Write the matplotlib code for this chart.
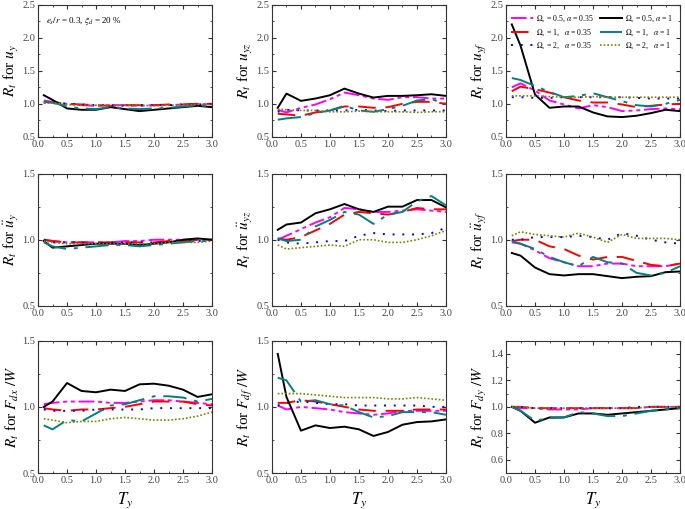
import matplotlib
matplotlib.use('Agg')
import matplotlib.pyplot as plt
from matplotlib.ticker import MultipleLocator

plt.rcParams['font.family'] = ['Liberation Serif', 'DejaVu Serif']
plt.rcParams['mathtext.fontset'] = 'stix'

T = [0.1, 0.25, 0.5, 0.75, 1.0, 1.25, 1.5, 1.75, 2.0, 2.25, 2.5, 2.75, 3.0]

series_labels = [r'$\Omega_s$ = 0.5, $\alpha$ = 0.35',
                 r'$\Omega_s$ = 1,   $\alpha$ = 0.35',
                 r'$\Omega_s$ = 2,   $\alpha$ = 0.35',
                 r'$\Omega_s$ = 0.5, $\alpha$ = 1',
                 r'$\Omega_s$ = 1,   $\alpha$ = 1',
                 r'$\Omega_s$ = 2,   $\alpha$ = 1']

# order: mag, red, blue, black, teal, olive
u_y = [
    [1.05, 1.03, 1.00, 0.98, 0.97, 0.98, 0.98, 0.97, 0.98, 0.98, 0.99, 1.00, 0.99],
    [1.03, 1.02, 1.00, 0.99, 0.98, 0.97, 0.98, 0.98, 0.98, 0.99, 0.99, 1.00, 1.00],
    [1.02, 1.01, 1.00, 0.99, 0.98, 0.98, 0.97, 0.98, 0.98, 0.98, 0.99, 0.99, 1.00],
    [1.13, 1.06, 0.93, 0.91, 0.91, 0.95, 0.92, 0.89, 0.91, 0.93, 0.95, 0.97, 0.95],
    [1.03, 1.02, 0.96, 0.93, 0.92, 0.95, 0.93, 0.92, 0.93, 0.94, 0.96, 0.98, 0.96],
    [1.01, 1.01, 0.99, 0.98, 0.98, 0.97, 0.98, 0.98, 0.97, 0.98, 0.98, 0.99, 0.99],
]
u_yz = [
    [0.91, 0.87, 0.94, 0.99, 1.07, 1.17, 1.13, 1.08, 1.06, 1.10, 1.10, 1.08, 1.08],
    [0.85, 0.84, 0.82, 0.87, 0.90, 0.96, 0.96, 0.94, 0.95, 1.00, 1.03, 1.03, 1.00],
    [0.88, 0.91, 0.90, 0.90, 0.90, 0.90, 0.91, 0.90, 0.89, 0.90, 0.90, 0.90, 0.90],
    [0.94, 1.155, 1.045, 1.08, 1.13, 1.23, 1.155, 1.095, 1.12, 1.12, 1.13, 1.145, 1.12],
    [0.76, 0.78, 0.80, 0.86, 0.90, 0.97, 0.90, 0.88, 0.92, 0.97, 1.05, 1.07, 1.00],
    [0.92, 0.91, 0.90, 0.90, 0.88, 0.88, 0.89, 0.88, 0.88, 0.88, 0.87, 0.88, 0.88],
]
u_yf = [
    [1.25, 1.31, 1.20, 1.05, 0.99, 0.93, 0.98, 0.95, 0.89, 0.90, 0.92, 0.93, 0.92],
    [1.19, 1.26, 1.22, 1.17, 1.10, 1.05, 1.02, 1.02, 0.99, 0.95, 0.97, 0.99, 1.00],
    [1.10, 1.10, 1.09, 1.09, 1.10, 1.10, 1.10, 1.10, 1.10, 1.09, 1.08, 1.08, 1.08],
    [2.20, 1.88, 1.14, 0.94, 0.96, 0.96, 0.87, 0.81, 0.80, 0.82, 0.86, 0.91, 0.89],
    [1.39, 1.36, 1.27, 1.18, 1.10, 1.12, 1.16, 1.10, 1.04, 0.98, 0.96, 1.00, 1.06],
    [1.12, 1.12, 1.12, 1.11, 1.10, 1.10, 1.11, 1.10, 1.10, 1.10, 1.10, 1.10, 1.10],
]
a_y = [
    [1.00, 0.99, 0.98, 0.98, 0.98, 0.98, 0.99, 0.99, 1.00, 1.00, 1.00, 1.00, 1.00],
    [1.00, 0.99, 0.98, 0.98, 0.98, 0.98, 0.98, 0.98, 0.98, 0.99, 0.99, 1.00, 1.00],
    [1.00, 0.98, 0.98, 0.98, 0.97, 0.98, 0.98, 0.98, 0.98, 0.98, 0.99, 0.99, 1.00],
    [0.99, 0.94, 0.95, 0.96, 0.97, 0.97, 0.97, 0.96, 0.97, 0.98, 1.00, 1.01, 1.00],
    [0.98, 0.95, 0.93, 0.94, 0.95, 0.96, 0.96, 0.95, 0.96, 0.97, 0.98, 0.99, 0.99],
    [0.99, 0.98, 0.97, 0.97, 0.97, 0.97, 0.97, 0.97, 0.97, 0.98, 0.98, 0.98, 0.99],
]
a_yz = [
    [1.00, 1.03, 1.08, 1.13, 1.17, 1.24, 1.23, 1.21, 1.21, 1.22, 1.23, 1.22, 1.21],
    [1.01, 1.00, 1.02, 1.07, 1.12, 1.19, 1.21, 1.20, 1.19, 1.21, 1.24, 1.23, 1.23],
    [1.00, 0.98, 0.97, 0.98, 0.99, 0.99, 1.03, 1.05, 1.04, 1.04, 1.04, 1.05, 1.09],
    [1.075, 1.115, 1.13, 1.20, 1.23, 1.27, 1.23, 1.21, 1.25, 1.25, 1.30, 1.30, 1.245],
    [1.01, 0.99, 1.00, 1.10, 1.15, 1.21, 1.19, 1.12, 1.19, 1.21, 1.29, 1.33, 1.26],
    [0.96, 0.93, 0.94, 0.95, 0.96, 0.95, 1.00, 1.00, 0.98, 0.98, 1.00, 1.03, 1.07],
]
a_yf = [
    [0.98, 0.97, 0.92, 0.86, 0.83, 0.80, 0.80, 0.82, 0.82, 0.80, 0.80, 0.80, 0.82],
    [0.99, 1.00, 1.00, 0.95, 0.93, 0.88, 0.85, 0.87, 0.87, 0.84, 0.81, 0.80, 0.82],
    [1.00, 1.00, 1.02, 1.02, 1.02, 1.03, 1.02, 1.00, 1.05, 1.03, 1.00, 0.98, 0.97],
    [0.90, 0.88, 0.79, 0.74, 0.73, 0.74, 0.74, 0.725, 0.71, 0.72, 0.725, 0.755, 0.76],
    [0.99, 0.97, 0.93, 0.87, 0.83, 0.80, 0.87, 0.83, 0.82, 0.75, 0.73, 0.75, 0.80],
    [1.03, 1.06, 1.04, 1.03, 1.02, 1.05, 1.02, 0.98, 1.04, 1.01, 1.01, 1.01, 1.00],
]
F_dx = [
    [1.02, 1.03, 1.04, 1.04, 1.04, 1.03, 1.03, 1.04, 1.05, 1.05, 1.04, 1.03, 1.02],
    [0.99, 0.98, 0.97, 0.98, 0.98, 0.99, 1.00, 1.02, 1.04, 1.04, 1.04, 1.02, 1.01],
    [0.98, 0.97, 0.97, 0.97, 0.98, 0.98, 0.98, 0.98, 0.99, 0.99, 0.99, 0.99, 0.99],
    [1.00, 1.04, 1.18, 1.12, 1.11, 1.13, 1.12, 1.17, 1.175, 1.16, 1.13, 1.075, 1.095],
    [0.86, 0.83, 0.90, 0.89, 0.95, 1.01, 1.02, 1.05, 1.08, 1.08, 1.07, 1.04, 1.06],
    [0.91, 0.90, 0.88, 0.89, 0.89, 0.91, 0.92, 0.91, 0.90, 0.90, 0.91, 0.93, 0.96],
]
F_df = [
    [1.01, 0.98, 1.00, 0.99, 0.98, 0.96, 0.95, 0.94, 0.95, 0.97, 0.97, 0.97, 0.97],
    [1.03, 1.03, 1.05, 1.04, 1.02, 1.00, 0.98, 0.97, 0.97, 0.97, 0.98, 0.98, 0.98],
    [1.01, 1.03, 1.04, 1.03, 1.02, 1.02, 1.01, 1.01, 1.01, 1.01, 1.01, 1.00, 1.00],
    [1.40, 1.075, 0.82, 0.86, 0.84, 0.85, 0.83, 0.78, 0.81, 0.865, 0.885, 0.89, 0.905],
    [1.22, 1.20, 1.04, 1.05, 1.02, 1.01, 0.96, 0.92, 0.93, 0.96, 0.96, 0.96, 0.94],
    [1.10, 1.10, 1.10, 1.09, 1.08, 1.07, 1.07, 1.07, 1.06, 1.06, 1.07, 1.06, 1.05],
]
F_dy = [
    [1.00, 0.99, 0.99, 0.98, 0.98, 0.98, 0.99, 0.99, 0.99, 0.99, 1.00, 1.00, 1.00],
    [1.00, 1.00, 0.99, 0.99, 0.99, 0.99, 0.99, 0.99, 0.99, 0.99, 1.00, 1.00, 1.00],
    [1.00, 1.00, 0.99, 0.99, 0.99, 0.99, 0.99, 0.99, 0.99, 1.00, 1.00, 1.00, 1.00],
    [1.00, 0.97, 0.88, 0.92, 0.92, 0.95, 0.95, 0.94, 0.95, 0.96, 0.97, 0.98, 0.99],
    [1.00, 0.97, 0.895, 0.915, 0.92, 0.96, 0.95, 0.93, 0.93, 0.95, 0.97, 0.98, 0.99],
    [1.00, 1.00, 0.99, 0.99, 0.99, 0.99, 0.99, 0.99, 0.99, 0.99, 1.00, 1.00, 1.00],
]

panels = [
    (u_y, r'$R_t$ for $u_y$', (0.5, 2.5)),
    (u_yz, r'$R_t$ for $u_{yz}$', (0.5, 2.5)),
    (u_yf, r'$R_t$ for $u_{yf}$', (0.5, 2.5)),
    (a_y, r'$R_t$ for $\ddot{u}_y$', (0.5, 1.5)),
    (a_yz, r'$R_t$ for $\ddot{u}_{yz}$', (0.5, 1.5)),
    (a_yf, r'$R_t$ for $\ddot{u}_{yf}$', (0.5, 1.5)),
    (F_dx, r'$R_t$ for $F_{dx}$ $/W$', (0.5, 1.5)),
    (F_df, r'$R_t$ for $F_{df}$ $/W$', (0.5, 1.5)),
    (F_dy, r'$R_t$ for $F_{dy}$ $/W$', (0.5, 1.5)),
]

colors = ['#ff00ff', '#ff0000', '#0000ff', '#000000', '#008080', '#808000']
styles = [(0, (8, 2, 2, 2, 2, 2)), (0, (9, 5)), (0, (1, 4)), '-',
          (0, (12, 4, 2, 4)), (0, (1, 1.2))]
widths = [1.4, 1.4, 1.4, 1.4, 1.4, 1.2]

fig = plt.figure(figsize=(6.85, 5.09), dpi=100)

lefts = [0.0555, 0.397, 0.7387]
w = 0.254
bottoms = [0.731, 0.399, 0.0707]
h = 0.26

for i, (data, ylab, ylim) in enumerate(panels):
    r, c = divmod(i, 3)
    ax = fig.add_axes([lefts[c], bottoms[r], w, h])
    for k in range(6):
        ax.plot(T, data[k], color=colors[k], linestyle=styles[k],
                linewidth=widths[k], label=series_labels[k])
    ax.set_xlim(0, 3)
    ax.set_ylim(*ylim)
    ax.xaxis.set_major_locator(MultipleLocator(0.5))
    ax.xaxis.set_minor_locator(MultipleLocator(0.25))
    if i == 8:
        ax.set_yticks([0.6, 0.8, 1.0, 1.2, 1.4])
        ax.yaxis.set_minor_locator(MultipleLocator(0.1))
    else:
        ax.yaxis.set_major_locator(MultipleLocator(0.5))
        ax.yaxis.set_minor_locator(MultipleLocator(0.25))
    ax.tick_params(which='both', direction='in', top=True, right=True,
                   labelsize=7.5, colors='#333333', labelcolor='#444444', pad=2)
    ax.tick_params(which='major', length=3)
    ax.tick_params(which='minor', length=1.5)
    for sp in ax.spines.values():
        sp.set_color('#333333')
    ax.set_ylabel(ylab, fontsize=11, labelpad=1)
    if r == 2:
        ax.set_xlabel(r'$T_y$', fontsize=12, labelpad=4)
    if i == 0:
        ax.text(0.13, 2.22, r'$e_s/r$ = 0.3, $\xi_d$ = 20 %', fontsize=6.5)
    if i == 2:
        ax.legend(ncol=2, loc='upper left', bbox_to_anchor=(0.0, 0.97),
                  frameon=False, fontsize=5.6, handlelength=2.9,
                  columnspacing=0.8, labelspacing=0.45, handletextpad=0.3,
                  borderaxespad=0.2)

plt.savefig('out.png', dpi=100)
